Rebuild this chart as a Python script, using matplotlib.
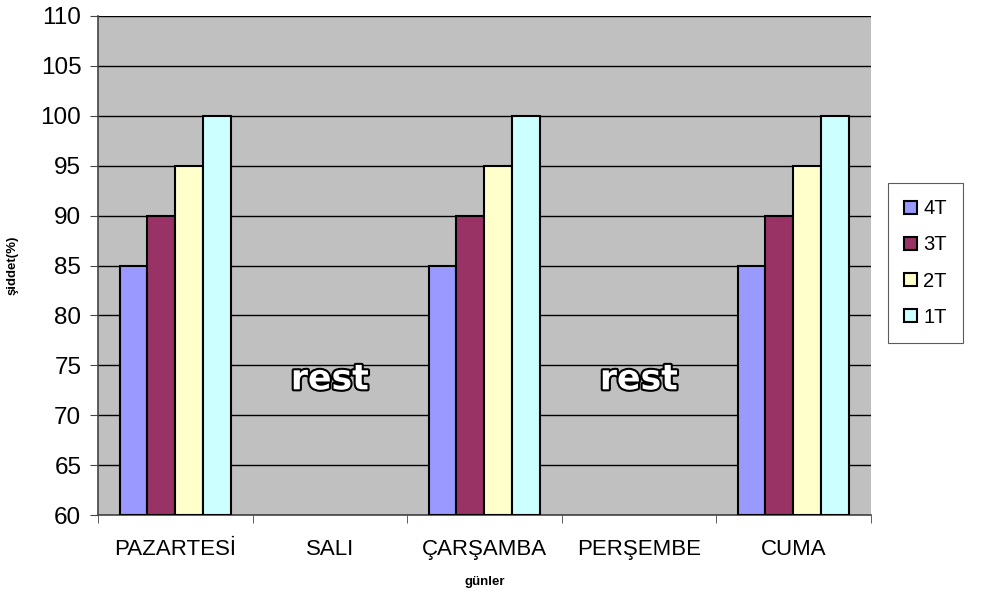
import numpy as np
import matplotlib.pyplot as plt
import matplotlib.patheffects as pe

plt.rcParams['font.family'] = ['Liberation Sans', 'DejaVu Sans']

gunler = ['PAZARTESİ', 'SALI', 'ÇARŞAMBA', 'PERŞEMBE', 'CUMA']
seriler = ['4T', '3T', '2T', '1T']
renkler = ['#9999FF', '#993366', '#FFFFCC', '#CCFFFF']
t4 = [85, 0, 85, 0, 85]
t3 = [90, 0, 90, 0, 90]
t2 = [95, 0, 95, 0, 95]
t1 = [100, 0, 100, 0, 100]
dinlenme = ['SALI', 'PERŞEMBE']

degerler = [t4, t3, t2, t1]

fig = plt.figure(figsize=(9.93, 5.92), dpi=100)
ax = fig.add_axes([0.0987, 0.130, 0.778, 0.843])
ax.set_facecolor('#C0C0C0')

x = np.arange(len(gunler))
w = 0.18
for i, (ad, renk, vals) in enumerate(zip(seriler, renkler, degerler)):
    v = np.array(vals, dtype=float)
    # boş günlerde çubuk çizme
    v = np.where(v > 0, v, np.nan)
    ax.bar(x + (i - 1.5) * w, v - 60, w, bottom=60, color=renk,
           edgecolor='black', linewidth=1.5, label=ad, zorder=3)

for g in dinlenme:
    ax.text(gunler.index(g), 73.6, 'rest', ha='center', va='center',
            fontsize=25, fontweight='bold', color='white', zorder=4,
            family='DejaVu Sans',
            path_effects=[pe.withStroke(linewidth=3, foreground='black')])

ax.set_xlim(-0.5, len(gunler) - 0.5)
ax.set_ylim(60, 110)
ax.set_yticks(np.arange(60, 111, 5))
ax.yaxis.grid(True, color='black', linewidth=1, zorder=0)
ax.set_axisbelow(True)

ax.set_xticks(x)
ax.set_xticklabels(gunler)
ax.set_xticks(np.arange(-0.5, len(gunler), 1), minor=True)
ax.tick_params(axis='x', which='major', length=0, pad=17, labelsize=16)
ax.tick_params(axis='x', which='minor', length=6, color='#444444')
ax.tick_params(axis='y', length=6, pad=6, labelsize=17.5, color='#444444')

for s in ['top', 'right']:
    ax.spines[s].set_visible(False)
for s in ['left', 'bottom']:
    ax.spines[s].set_color('#444444')
    ax.spines[s].set_linewidth(1.2)

ax.set_ylabel('şiddet(%)', fontsize=9.5, fontweight='bold', labelpad=16)
ax.set_xlabel('günler', fontsize=9.5, fontweight='bold', labelpad=12)

leg = ax.legend(loc='center left', bbox_to_anchor=(1.012, 0.505), fontsize=14.5,
                frameon=True, fancybox=False, edgecolor='#333333',
                handlelength=0.65, handleheight=0.65, handletextpad=0.3,
                labelspacing=0.85, borderpad=0.8, borderaxespad=0.4)
leg.get_frame().set_linewidth(0.8)
for h in leg.legend_handles:
    h.set_linewidth(1.5)

fig.savefig('out.png', dpi=100)
